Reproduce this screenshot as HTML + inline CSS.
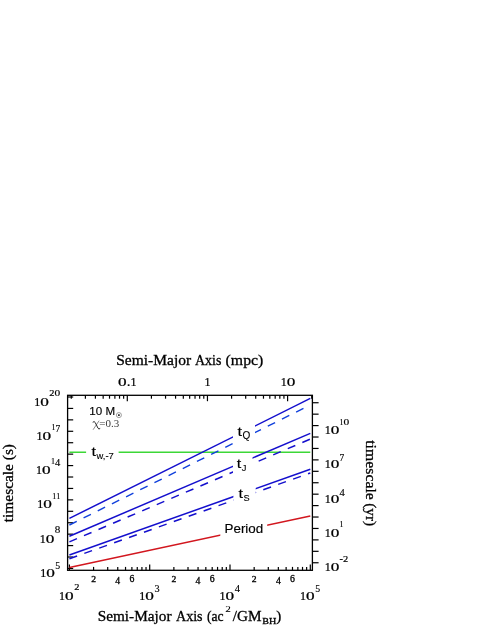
<!DOCTYPE html>
<html><head><meta charset="utf-8"><title>chart</title>
<style>html,body{margin:0;padding:0;background:#fff}svg{display:block;will-change:transform}</style></head>
<body>
<svg width="485" height="627" viewBox="0 0 485 627">
<rect width="485" height="627" fill="#fff"/>
<rect x="67.6" y="395.3" width="244.80" height="175.00" fill="none" stroke="#000" stroke-width="1.3"/>
<line x1="67.60" y1="568.45" x2="73.20" y2="568.45" stroke="#000" stroke-width="1.2"/>
<line x1="67.60" y1="557.02" x2="73.20" y2="557.02" stroke="#000" stroke-width="1.2"/>
<line x1="67.60" y1="545.59" x2="73.20" y2="545.59" stroke="#000" stroke-width="1.2"/>
<line x1="67.60" y1="534.16" x2="73.20" y2="534.16" stroke="#000" stroke-width="1.2"/>
<line x1="67.60" y1="522.73" x2="73.20" y2="522.73" stroke="#000" stroke-width="1.2"/>
<line x1="67.60" y1="511.30" x2="73.20" y2="511.30" stroke="#000" stroke-width="1.2"/>
<line x1="67.60" y1="499.87" x2="73.20" y2="499.87" stroke="#000" stroke-width="1.2"/>
<line x1="67.60" y1="488.44" x2="73.20" y2="488.44" stroke="#000" stroke-width="1.2"/>
<line x1="67.60" y1="477.01" x2="73.20" y2="477.01" stroke="#000" stroke-width="1.2"/>
<line x1="67.60" y1="465.58" x2="73.20" y2="465.58" stroke="#000" stroke-width="1.2"/>
<line x1="67.60" y1="454.15" x2="73.20" y2="454.15" stroke="#000" stroke-width="1.2"/>
<line x1="67.60" y1="442.72" x2="73.20" y2="442.72" stroke="#000" stroke-width="1.2"/>
<line x1="67.60" y1="431.29" x2="73.20" y2="431.29" stroke="#000" stroke-width="1.2"/>
<line x1="67.60" y1="419.86" x2="73.20" y2="419.86" stroke="#000" stroke-width="1.2"/>
<line x1="67.60" y1="408.43" x2="73.20" y2="408.43" stroke="#000" stroke-width="1.2"/>
<line x1="67.60" y1="397.00" x2="73.20" y2="397.00" stroke="#000" stroke-width="1.2"/>
<line x1="312.40" y1="562.75" x2="318.60" y2="562.75" stroke="#000" stroke-width="1.2"/>
<line x1="312.40" y1="551.32" x2="318.60" y2="551.32" stroke="#000" stroke-width="1.2"/>
<line x1="312.40" y1="539.89" x2="318.60" y2="539.89" stroke="#000" stroke-width="1.2"/>
<line x1="312.40" y1="528.46" x2="318.60" y2="528.46" stroke="#000" stroke-width="1.2"/>
<line x1="312.40" y1="517.03" x2="318.60" y2="517.03" stroke="#000" stroke-width="1.2"/>
<line x1="312.40" y1="505.60" x2="318.60" y2="505.60" stroke="#000" stroke-width="1.2"/>
<line x1="312.40" y1="494.17" x2="318.60" y2="494.17" stroke="#000" stroke-width="1.2"/>
<line x1="312.40" y1="482.74" x2="318.60" y2="482.74" stroke="#000" stroke-width="1.2"/>
<line x1="312.40" y1="471.31" x2="318.60" y2="471.31" stroke="#000" stroke-width="1.2"/>
<line x1="312.40" y1="459.88" x2="318.60" y2="459.88" stroke="#000" stroke-width="1.2"/>
<line x1="312.40" y1="448.45" x2="318.60" y2="448.45" stroke="#000" stroke-width="1.2"/>
<line x1="312.40" y1="437.02" x2="318.60" y2="437.02" stroke="#000" stroke-width="1.2"/>
<line x1="312.40" y1="425.59" x2="318.60" y2="425.59" stroke="#000" stroke-width="1.2"/>
<line x1="312.40" y1="414.16" x2="318.60" y2="414.16" stroke="#000" stroke-width="1.2"/>
<line x1="312.40" y1="402.73" x2="318.60" y2="402.73" stroke="#000" stroke-width="1.2"/>
<line x1="69.40" y1="570.30" x2="69.40" y2="564.40" stroke="#000" stroke-width="1.2"/>
<line x1="93.57" y1="570.30" x2="93.57" y2="566.90" stroke="#000" stroke-width="1.2"/>
<line x1="107.71" y1="570.30" x2="107.71" y2="566.90" stroke="#000" stroke-width="1.2"/>
<line x1="117.75" y1="570.30" x2="117.75" y2="566.90" stroke="#000" stroke-width="1.2"/>
<line x1="125.53" y1="570.30" x2="125.53" y2="566.90" stroke="#000" stroke-width="1.2"/>
<line x1="131.89" y1="570.30" x2="131.89" y2="566.90" stroke="#000" stroke-width="1.2"/>
<line x1="137.26" y1="570.30" x2="137.26" y2="566.90" stroke="#000" stroke-width="1.2"/>
<line x1="141.92" y1="570.30" x2="141.92" y2="566.90" stroke="#000" stroke-width="1.2"/>
<line x1="146.03" y1="570.30" x2="146.03" y2="566.90" stroke="#000" stroke-width="1.2"/>
<line x1="149.70" y1="570.30" x2="149.70" y2="564.40" stroke="#000" stroke-width="1.2"/>
<line x1="173.87" y1="570.30" x2="173.87" y2="566.90" stroke="#000" stroke-width="1.2"/>
<line x1="188.01" y1="570.30" x2="188.01" y2="566.90" stroke="#000" stroke-width="1.2"/>
<line x1="198.05" y1="570.30" x2="198.05" y2="566.90" stroke="#000" stroke-width="1.2"/>
<line x1="205.83" y1="570.30" x2="205.83" y2="566.90" stroke="#000" stroke-width="1.2"/>
<line x1="212.19" y1="570.30" x2="212.19" y2="566.90" stroke="#000" stroke-width="1.2"/>
<line x1="217.56" y1="570.30" x2="217.56" y2="566.90" stroke="#000" stroke-width="1.2"/>
<line x1="222.22" y1="570.30" x2="222.22" y2="566.90" stroke="#000" stroke-width="1.2"/>
<line x1="226.33" y1="570.30" x2="226.33" y2="566.90" stroke="#000" stroke-width="1.2"/>
<line x1="230.00" y1="570.30" x2="230.00" y2="564.40" stroke="#000" stroke-width="1.2"/>
<line x1="254.17" y1="570.30" x2="254.17" y2="566.90" stroke="#000" stroke-width="1.2"/>
<line x1="268.31" y1="570.30" x2="268.31" y2="566.90" stroke="#000" stroke-width="1.2"/>
<line x1="278.35" y1="570.30" x2="278.35" y2="566.90" stroke="#000" stroke-width="1.2"/>
<line x1="286.13" y1="570.30" x2="286.13" y2="566.90" stroke="#000" stroke-width="1.2"/>
<line x1="292.49" y1="570.30" x2="292.49" y2="566.90" stroke="#000" stroke-width="1.2"/>
<line x1="297.86" y1="570.30" x2="297.86" y2="566.90" stroke="#000" stroke-width="1.2"/>
<line x1="302.52" y1="570.30" x2="302.52" y2="566.90" stroke="#000" stroke-width="1.2"/>
<line x1="306.63" y1="570.30" x2="306.63" y2="566.90" stroke="#000" stroke-width="1.2"/>
<line x1="310.30" y1="570.30" x2="310.30" y2="564.40" stroke="#000" stroke-width="1.2"/>
<line x1="71.28" y1="395.30" x2="71.28" y2="398.70" stroke="#000" stroke-width="1.2"/>
<line x1="85.39" y1="395.30" x2="85.39" y2="398.70" stroke="#000" stroke-width="1.2"/>
<line x1="95.41" y1="395.30" x2="95.41" y2="398.70" stroke="#000" stroke-width="1.2"/>
<line x1="103.17" y1="395.30" x2="103.17" y2="398.70" stroke="#000" stroke-width="1.2"/>
<line x1="109.52" y1="395.30" x2="109.52" y2="398.70" stroke="#000" stroke-width="1.2"/>
<line x1="114.88" y1="395.30" x2="114.88" y2="398.70" stroke="#000" stroke-width="1.2"/>
<line x1="119.53" y1="395.30" x2="119.53" y2="398.70" stroke="#000" stroke-width="1.2"/>
<line x1="123.63" y1="395.30" x2="123.63" y2="398.70" stroke="#000" stroke-width="1.2"/>
<line x1="127.30" y1="395.30" x2="127.30" y2="401.20" stroke="#000" stroke-width="1.2"/>
<line x1="151.43" y1="395.30" x2="151.43" y2="398.70" stroke="#000" stroke-width="1.2"/>
<line x1="165.54" y1="395.30" x2="165.54" y2="398.70" stroke="#000" stroke-width="1.2"/>
<line x1="175.56" y1="395.30" x2="175.56" y2="398.70" stroke="#000" stroke-width="1.2"/>
<line x1="183.32" y1="395.30" x2="183.32" y2="398.70" stroke="#000" stroke-width="1.2"/>
<line x1="189.67" y1="395.30" x2="189.67" y2="398.70" stroke="#000" stroke-width="1.2"/>
<line x1="195.03" y1="395.30" x2="195.03" y2="398.70" stroke="#000" stroke-width="1.2"/>
<line x1="199.68" y1="395.30" x2="199.68" y2="398.70" stroke="#000" stroke-width="1.2"/>
<line x1="203.78" y1="395.30" x2="203.78" y2="398.70" stroke="#000" stroke-width="1.2"/>
<line x1="207.45" y1="395.30" x2="207.45" y2="401.20" stroke="#000" stroke-width="1.2"/>
<line x1="231.58" y1="395.30" x2="231.58" y2="398.70" stroke="#000" stroke-width="1.2"/>
<line x1="245.69" y1="395.30" x2="245.69" y2="398.70" stroke="#000" stroke-width="1.2"/>
<line x1="255.71" y1="395.30" x2="255.71" y2="398.70" stroke="#000" stroke-width="1.2"/>
<line x1="263.47" y1="395.30" x2="263.47" y2="398.70" stroke="#000" stroke-width="1.2"/>
<line x1="269.82" y1="395.30" x2="269.82" y2="398.70" stroke="#000" stroke-width="1.2"/>
<line x1="275.18" y1="395.30" x2="275.18" y2="398.70" stroke="#000" stroke-width="1.2"/>
<line x1="279.83" y1="395.30" x2="279.83" y2="398.70" stroke="#000" stroke-width="1.2"/>
<line x1="283.93" y1="395.30" x2="283.93" y2="398.70" stroke="#000" stroke-width="1.2"/>
<line x1="287.60" y1="395.30" x2="287.60" y2="401.20" stroke="#000" stroke-width="1.2"/>
<line x1="311.73" y1="395.30" x2="311.73" y2="398.70" stroke="#000" stroke-width="1.2"/>
<line x1="69.40" y1="452.30" x2="310.30" y2="452.30" stroke="#3cd737" stroke-width="1.6"/>
<line x1="69.40" y1="525.00" x2="310.30" y2="405.03" stroke="#1040dc" stroke-width="1.4" stroke-dasharray="8.2 7.63" stroke-dashoffset="0"/>
<line x1="69.40" y1="518.40" x2="310.30" y2="398.43" stroke="#140fcd" stroke-width="1.5"/>
<line x1="69.40" y1="541.90" x2="310.30" y2="439.04" stroke="#140fcd" stroke-width="1.5" stroke-dasharray="8.2 7.63" stroke-dashoffset="0"/>
<line x1="69.40" y1="536.20" x2="310.30" y2="433.34" stroke="#140fcd" stroke-width="1.5"/>
<line x1="69.40" y1="558.70" x2="310.30" y2="472.99" stroke="#140fcd" stroke-width="1.5" stroke-dasharray="8.2 7.63" stroke-dashoffset="0"/>
<line x1="69.40" y1="555.00" x2="310.30" y2="469.29" stroke="#140fcd" stroke-width="1.5"/>
<line x1="69.40" y1="567.40" x2="310.30" y2="515.97" stroke="#d2161e" stroke-width="1.5"/>
<rect x="233" y="422" width="22.00" height="24.00" fill="#fff"/>
<rect x="233" y="455" width="19.50" height="20.00" fill="#fff"/>
<rect x="233.4" y="485" width="22.30" height="17.00" fill="#fff"/>
<rect x="86.1" y="444" width="32.50" height="18.00" fill="#fff"/>
<rect x="220.3" y="520" width="46.90" height="18.00" fill="#fff"/>
<text x="116.20" y="364.90" font-size="15" font-family="Liberation Serif, serif" text-anchor="start" textLength="75.00" lengthAdjust="spacingAndGlyphs" fill="#000" stroke="#000" stroke-width="0.3" >Semi-Major</text>
<text x="195.00" y="364.90" font-size="15" font-family="Liberation Serif, serif" text-anchor="start" textLength="26.40" lengthAdjust="spacingAndGlyphs" fill="#000" stroke="#000" stroke-width="0.3" >Axis</text>
<text x="225.60" y="364.90" font-size="15" font-family="Liberation Serif, serif" text-anchor="start" textLength="37.70" lengthAdjust="spacingAndGlyphs" fill="#000" stroke="#000" stroke-width="0.3" >(mpc)</text>
<text x="118.11" y="385.60" font-size="11.49" font-family="Liberation Serif, serif" text-anchor="start" textLength="8.60" lengthAdjust="spacingAndGlyphs" fill="#000" stroke="#000" stroke-width="0.2" >0</text>
<text x="126.70" y="385.60" font-size="14" font-family="Liberation Serif, serif" text-anchor="start" textLength="3.78" lengthAdjust="spacingAndGlyphs" fill="#000" stroke="#000" stroke-width="0.2" >.</text>
<text x="130.48" y="385.60" font-size="11.49" font-family="Liberation Serif, serif" text-anchor="start" textLength="6.01" lengthAdjust="spacingAndGlyphs" fill="#000" stroke="#000" stroke-width="0.2" >1</text>
<text x="204.40" y="385.60" font-size="11.49" font-family="Liberation Serif, serif" text-anchor="start" textLength="6.01" lengthAdjust="spacingAndGlyphs" fill="#000" stroke="#000" stroke-width="0.2" >1</text>
<text x="280.70" y="385.60" font-size="11.49" font-family="Liberation Serif, serif" text-anchor="start" textLength="6.01" lengthAdjust="spacingAndGlyphs" fill="#000" stroke="#000" stroke-width="0.2" >1</text>
<text x="286.71" y="385.60" font-size="11.49" font-family="Liberation Serif, serif" text-anchor="start" textLength="8.60" lengthAdjust="spacingAndGlyphs" fill="#000" stroke="#000" stroke-width="0.2" >0</text>
<text x="34.29" y="405.60" font-size="11.7" font-family="Liberation Serif, serif" text-anchor="start" textLength="6.01" lengthAdjust="spacingAndGlyphs" fill="#000" stroke="#000" stroke-width="0.22" >1</text>
<text x="40.30" y="405.60" font-size="11.7" font-family="Liberation Serif, serif" text-anchor="start" textLength="8.60" lengthAdjust="spacingAndGlyphs" fill="#000" stroke="#000" stroke-width="0.22" >0</text>
<text x="49.39" y="395.90" font-size="7.77" font-family="Liberation Serif, serif" text-anchor="start" textLength="5.20" lengthAdjust="spacingAndGlyphs" fill="#000" stroke="#000" stroke-width="0.15" >2</text>
<text x="54.59" y="395.90" font-size="7.77" font-family="Liberation Serif, serif" text-anchor="start" textLength="5.71" lengthAdjust="spacingAndGlyphs" fill="#000" stroke="#000" stroke-width="0.15" >0</text>
<text x="36.53" y="439.89" font-size="11.7" font-family="Liberation Serif, serif" text-anchor="start" textLength="6.01" lengthAdjust="spacingAndGlyphs" fill="#000" stroke="#000" stroke-width="0.22" >1</text>
<text x="42.54" y="439.89" font-size="11.7" font-family="Liberation Serif, serif" text-anchor="start" textLength="8.60" lengthAdjust="spacingAndGlyphs" fill="#000" stroke="#000" stroke-width="0.22" >0</text>
<text x="51.63" y="430.19" font-size="7.77" font-family="Liberation Serif, serif" text-anchor="start" textLength="3.99" lengthAdjust="spacingAndGlyphs" fill="#000" stroke="#000" stroke-width="0.15" >1</text>
<text x="55.62" y="432.14" font-size="9.58" font-family="Liberation Serif, serif" text-anchor="start" textLength="4.68" lengthAdjust="spacingAndGlyphs" fill="#000" stroke="#000" stroke-width="0.15" >7</text>
<text x="35.95" y="474.18" font-size="11.7" font-family="Liberation Serif, serif" text-anchor="start" textLength="6.01" lengthAdjust="spacingAndGlyphs" fill="#000" stroke="#000" stroke-width="0.22" >1</text>
<text x="41.96" y="474.18" font-size="11.7" font-family="Liberation Serif, serif" text-anchor="start" textLength="8.60" lengthAdjust="spacingAndGlyphs" fill="#000" stroke="#000" stroke-width="0.22" >0</text>
<text x="51.06" y="464.48" font-size="7.77" font-family="Liberation Serif, serif" text-anchor="start" textLength="3.99" lengthAdjust="spacingAndGlyphs" fill="#000" stroke="#000" stroke-width="0.15" >1</text>
<text x="55.05" y="466.43" font-size="9.58" font-family="Liberation Serif, serif" text-anchor="start" textLength="5.25" lengthAdjust="spacingAndGlyphs" fill="#000" stroke="#000" stroke-width="0.15" >4</text>
<text x="37.22" y="508.47" font-size="11.7" font-family="Liberation Serif, serif" text-anchor="start" textLength="6.01" lengthAdjust="spacingAndGlyphs" fill="#000" stroke="#000" stroke-width="0.22" >1</text>
<text x="43.22" y="508.47" font-size="11.7" font-family="Liberation Serif, serif" text-anchor="start" textLength="8.60" lengthAdjust="spacingAndGlyphs" fill="#000" stroke="#000" stroke-width="0.22" >0</text>
<text x="52.32" y="498.77" font-size="7.77" font-family="Liberation Serif, serif" text-anchor="start" textLength="3.99" lengthAdjust="spacingAndGlyphs" fill="#000" stroke="#000" stroke-width="0.15" >1</text>
<text x="56.31" y="498.77" font-size="7.77" font-family="Liberation Serif, serif" text-anchor="start" textLength="3.99" lengthAdjust="spacingAndGlyphs" fill="#000" stroke="#000" stroke-width="0.15" >1</text>
<text x="39.65" y="542.76" font-size="11.7" font-family="Liberation Serif, serif" text-anchor="start" textLength="6.01" lengthAdjust="spacingAndGlyphs" fill="#000" stroke="#000" stroke-width="0.22" >1</text>
<text x="45.65" y="542.76" font-size="11.7" font-family="Liberation Serif, serif" text-anchor="start" textLength="8.60" lengthAdjust="spacingAndGlyphs" fill="#000" stroke="#000" stroke-width="0.22" >0</text>
<text x="54.75" y="533.06" font-size="9.58" font-family="Liberation Serif, serif" text-anchor="start" textLength="5.55" lengthAdjust="spacingAndGlyphs" fill="#000" stroke="#000" stroke-width="0.15" >8</text>
<text x="40.29" y="577.05" font-size="11.7" font-family="Liberation Serif, serif" text-anchor="start" textLength="6.01" lengthAdjust="spacingAndGlyphs" fill="#000" stroke="#000" stroke-width="0.22" >1</text>
<text x="46.29" y="577.05" font-size="11.7" font-family="Liberation Serif, serif" text-anchor="start" textLength="8.60" lengthAdjust="spacingAndGlyphs" fill="#000" stroke="#000" stroke-width="0.22" >0</text>
<text x="55.39" y="569.30" font-size="9.58" font-family="Liberation Serif, serif" text-anchor="start" textLength="4.91" lengthAdjust="spacingAndGlyphs" fill="#000" stroke="#000" stroke-width="0.15" >5</text>
<text x="324.80" y="433.79" font-size="11.7" font-family="Liberation Serif, serif" text-anchor="start" textLength="6.01" lengthAdjust="spacingAndGlyphs" fill="#000" stroke="#000" stroke-width="0.22" >1</text>
<text x="330.81" y="433.79" font-size="11.7" font-family="Liberation Serif, serif" text-anchor="start" textLength="8.60" lengthAdjust="spacingAndGlyphs" fill="#000" stroke="#000" stroke-width="0.22" >0</text>
<text x="339.50" y="424.59" font-size="7.77" font-family="Liberation Serif, serif" text-anchor="start" textLength="3.99" lengthAdjust="spacingAndGlyphs" fill="#000" stroke="#000" stroke-width="0.15" >1</text>
<text x="343.49" y="424.59" font-size="7.77" font-family="Liberation Serif, serif" text-anchor="start" textLength="5.71" lengthAdjust="spacingAndGlyphs" fill="#000" stroke="#000" stroke-width="0.15" >0</text>
<text x="324.80" y="468.08" font-size="11.7" font-family="Liberation Serif, serif" text-anchor="start" textLength="6.01" lengthAdjust="spacingAndGlyphs" fill="#000" stroke="#000" stroke-width="0.22" >1</text>
<text x="330.81" y="468.08" font-size="11.7" font-family="Liberation Serif, serif" text-anchor="start" textLength="8.60" lengthAdjust="spacingAndGlyphs" fill="#000" stroke="#000" stroke-width="0.22" >0</text>
<text x="339.50" y="460.83" font-size="9.58" font-family="Liberation Serif, serif" text-anchor="start" textLength="4.68" lengthAdjust="spacingAndGlyphs" fill="#000" stroke="#000" stroke-width="0.15" >7</text>
<text x="324.80" y="502.97" font-size="11.7" font-family="Liberation Serif, serif" text-anchor="start" textLength="6.01" lengthAdjust="spacingAndGlyphs" fill="#000" stroke="#000" stroke-width="0.22" >1</text>
<text x="330.81" y="502.97" font-size="11.7" font-family="Liberation Serif, serif" text-anchor="start" textLength="8.60" lengthAdjust="spacingAndGlyphs" fill="#000" stroke="#000" stroke-width="0.22" >0</text>
<text x="339.50" y="495.72" font-size="9.58" font-family="Liberation Serif, serif" text-anchor="start" textLength="5.25" lengthAdjust="spacingAndGlyphs" fill="#000" stroke="#000" stroke-width="0.15" >4</text>
<text x="324.80" y="536.66" font-size="11.7" font-family="Liberation Serif, serif" text-anchor="start" textLength="6.01" lengthAdjust="spacingAndGlyphs" fill="#000" stroke="#000" stroke-width="0.22" >1</text>
<text x="330.81" y="536.66" font-size="11.7" font-family="Liberation Serif, serif" text-anchor="start" textLength="8.60" lengthAdjust="spacingAndGlyphs" fill="#000" stroke="#000" stroke-width="0.22" >0</text>
<text x="339.50" y="527.46" font-size="7.77" font-family="Liberation Serif, serif" text-anchor="start" textLength="3.99" lengthAdjust="spacingAndGlyphs" fill="#000" stroke="#000" stroke-width="0.15" >1</text>
<text x="324.80" y="570.95" font-size="11.7" font-family="Liberation Serif, serif" text-anchor="start" textLength="6.01" lengthAdjust="spacingAndGlyphs" fill="#000" stroke="#000" stroke-width="0.22" >1</text>
<text x="330.81" y="570.95" font-size="11.7" font-family="Liberation Serif, serif" text-anchor="start" textLength="8.60" lengthAdjust="spacingAndGlyphs" fill="#000" stroke="#000" stroke-width="0.22" >0</text>
<text x="339.50" y="561.75" font-size="9.3" font-family="Liberation Serif, serif" text-anchor="start" textLength="3.48" lengthAdjust="spacingAndGlyphs" fill="#000" stroke="#000" stroke-width="0.15" >-</text>
<text x="342.98" y="561.75" font-size="7.77" font-family="Liberation Serif, serif" text-anchor="start" textLength="5.20" lengthAdjust="spacingAndGlyphs" fill="#000" stroke="#000" stroke-width="0.15" >2</text>
<text x="59.05" y="600.20" font-size="11.7" font-family="Liberation Serif, serif" text-anchor="start" textLength="6.01" lengthAdjust="spacingAndGlyphs" fill="#000" stroke="#000" stroke-width="0.22" >1</text>
<text x="65.06" y="600.20" font-size="11.7" font-family="Liberation Serif, serif" text-anchor="start" textLength="8.60" lengthAdjust="spacingAndGlyphs" fill="#000" stroke="#000" stroke-width="0.22" >0</text>
<text x="74.15" y="590.30" font-size="7.77" font-family="Liberation Serif, serif" text-anchor="start" textLength="5.20" lengthAdjust="spacingAndGlyphs" fill="#000" stroke="#000" stroke-width="0.15" >2</text>
<text x="139.38" y="600.20" font-size="11.7" font-family="Liberation Serif, serif" text-anchor="start" textLength="6.01" lengthAdjust="spacingAndGlyphs" fill="#000" stroke="#000" stroke-width="0.22" >1</text>
<text x="145.39" y="600.20" font-size="11.7" font-family="Liberation Serif, serif" text-anchor="start" textLength="8.60" lengthAdjust="spacingAndGlyphs" fill="#000" stroke="#000" stroke-width="0.22" >0</text>
<text x="154.48" y="592.25" font-size="9.58" font-family="Liberation Serif, serif" text-anchor="start" textLength="5.13" lengthAdjust="spacingAndGlyphs" fill="#000" stroke="#000" stroke-width="0.15" >3</text>
<text x="219.62" y="600.20" font-size="11.7" font-family="Liberation Serif, serif" text-anchor="start" textLength="6.01" lengthAdjust="spacingAndGlyphs" fill="#000" stroke="#000" stroke-width="0.22" >1</text>
<text x="225.63" y="600.20" font-size="11.7" font-family="Liberation Serif, serif" text-anchor="start" textLength="8.60" lengthAdjust="spacingAndGlyphs" fill="#000" stroke="#000" stroke-width="0.22" >0</text>
<text x="234.72" y="592.25" font-size="9.58" font-family="Liberation Serif, serif" text-anchor="start" textLength="5.25" lengthAdjust="spacingAndGlyphs" fill="#000" stroke="#000" stroke-width="0.15" >4</text>
<text x="300.09" y="600.20" font-size="11.7" font-family="Liberation Serif, serif" text-anchor="start" textLength="6.01" lengthAdjust="spacingAndGlyphs" fill="#000" stroke="#000" stroke-width="0.22" >1</text>
<text x="306.10" y="600.20" font-size="11.7" font-family="Liberation Serif, serif" text-anchor="start" textLength="8.60" lengthAdjust="spacingAndGlyphs" fill="#000" stroke="#000" stroke-width="0.22" >0</text>
<text x="315.20" y="592.25" font-size="9.58" font-family="Liberation Serif, serif" text-anchor="start" textLength="4.91" lengthAdjust="spacingAndGlyphs" fill="#000" stroke="#000" stroke-width="0.15" >5</text>
<text x="91.16" y="581.60" font-size="8.25" font-family="Liberation Serif, serif" text-anchor="start" textLength="4.83" lengthAdjust="spacingAndGlyphs" fill="#000" stroke="#000" stroke-width="0.3" >2</text>
<text x="115.30" y="583.55" font-size="9.58" font-family="Liberation Serif, serif" text-anchor="start" textLength="4.89" lengthAdjust="spacingAndGlyphs" fill="#000" stroke="#000" stroke-width="0.3" >4</text>
<text x="129.44" y="581.60" font-size="9.58" font-family="Liberation Serif, serif" text-anchor="start" textLength="4.90" lengthAdjust="spacingAndGlyphs" fill="#000" stroke="#000" stroke-width="0.3" >6</text>
<text x="171.46" y="581.60" font-size="8.25" font-family="Liberation Serif, serif" text-anchor="start" textLength="4.83" lengthAdjust="spacingAndGlyphs" fill="#000" stroke="#000" stroke-width="0.3" >2</text>
<text x="195.60" y="583.55" font-size="9.58" font-family="Liberation Serif, serif" text-anchor="start" textLength="4.89" lengthAdjust="spacingAndGlyphs" fill="#000" stroke="#000" stroke-width="0.3" >4</text>
<text x="209.74" y="581.60" font-size="9.58" font-family="Liberation Serif, serif" text-anchor="start" textLength="4.90" lengthAdjust="spacingAndGlyphs" fill="#000" stroke="#000" stroke-width="0.3" >6</text>
<text x="251.76" y="581.60" font-size="8.25" font-family="Liberation Serif, serif" text-anchor="start" textLength="4.83" lengthAdjust="spacingAndGlyphs" fill="#000" stroke="#000" stroke-width="0.3" >2</text>
<text x="275.90" y="583.55" font-size="9.58" font-family="Liberation Serif, serif" text-anchor="start" textLength="4.89" lengthAdjust="spacingAndGlyphs" fill="#000" stroke="#000" stroke-width="0.3" >4</text>
<text x="290.04" y="581.60" font-size="9.58" font-family="Liberation Serif, serif" text-anchor="start" textLength="4.90" lengthAdjust="spacingAndGlyphs" fill="#000" stroke="#000" stroke-width="0.3" >6</text>
<text transform="translate(13.4,522.2) rotate(-90)" font-size="15" font-family="Liberation Serif, serif" textLength="78.2" lengthAdjust="spacingAndGlyphs" stroke="#000" stroke-width="0.3">timescale (s)</text>
<text transform="translate(366.4,440.2) rotate(90)" font-size="15" font-family="Liberation Serif, serif" textLength="59.6" lengthAdjust="spacingAndGlyphs" stroke="#000" stroke-width="0.3">timescale</text>
<text transform="translate(366.4,503.2) rotate(90)" font-size="15" font-family="Liberation Serif, serif" textLength="23.0" lengthAdjust="spacingAndGlyphs" stroke="#000" stroke-width="0.3">(yr)</text>
<text x="97.70" y="620.50" font-size="15" font-family="Liberation Serif, serif" text-anchor="start" textLength="73.80" lengthAdjust="spacingAndGlyphs" fill="#000" stroke="#000" stroke-width="0.3" >Semi-Major</text>
<text x="176.00" y="620.50" font-size="15" font-family="Liberation Serif, serif" text-anchor="start" textLength="26.60" lengthAdjust="spacingAndGlyphs" fill="#000" stroke="#000" stroke-width="0.3" >Axis</text>
<text x="207.00" y="620.50" font-size="15" font-family="Liberation Serif, serif" text-anchor="start" textLength="16.60" lengthAdjust="spacingAndGlyphs" fill="#000" stroke="#000" stroke-width="0.3" >(ac</text>
<text x="225.30" y="612.00" font-size="8.36" font-family="Liberation Serif, serif" text-anchor="start" textLength="5.59" lengthAdjust="spacingAndGlyphs" fill="#000" stroke="#000" stroke-width="0.05" >2</text>
<text x="232.80" y="620.50" font-size="15" font-family="Liberation Serif, serif" text-anchor="start" textLength="28.80" lengthAdjust="spacingAndGlyphs" fill="#000" stroke="#000" stroke-width="0.3" >/GM</text>
<text x="262.20" y="624.30" font-size="8.2" font-family="Liberation Serif, serif" text-anchor="start" textLength="14.00" lengthAdjust="spacingAndGlyphs" fill="#000" stroke="#000" stroke-width="0.3" >BH</text>
<text x="276.30" y="620.50" font-size="15" font-family="Liberation Serif, serif" text-anchor="start" fill="#000" stroke="#000" stroke-width="0.3" >)</text>
<text x="89.30" y="414.80" font-size="11.6" font-family="Liberation Sans, sans-serif" text-anchor="start" fill="#000" stroke="#000" stroke-width="0.15" >10 M</text>
<circle cx="118.9" cy="415.1" r="2.55" fill="none" stroke="#555" stroke-width="0.55"/><circle cx="118.9" cy="415.1" r="0.95" fill="#000"/>
<path d="M93.0,422.0 q1.3,-1.2 2.2,0.5 L98.0,428.2 q0.8,1.5 1.9,0.5" fill="none" stroke="#2a2a2a" stroke-width="1.0" stroke-linecap="round"/>
<path d="M98.9,421.0 L93.3,429.4" fill="none" stroke="#2a2a2a" stroke-width="0.55" stroke-linecap="round"/>
<text x="99.3" y="426.6" font-size="10.8" font-family="Liberation Serif, serif" fill="#3a3a3a" textLength="20.0" lengthAdjust="spacingAndGlyphs">=0.3</text>
<text x="237.4" y="436.2" font-size="13.2" font-family="Liberation Sans, sans-serif" stroke="#000" stroke-width="0.15" textLength="4.5" lengthAdjust="spacingAndGlyphs">t</text>
<text x="242.6" y="439.4" font-size="10" font-family="Liberation Sans, sans-serif" stroke="#000" stroke-width="0.12">Q</text>
<text x="236.8" y="467.7" font-size="13.2" font-family="Liberation Sans, sans-serif" stroke="#000" stroke-width="0.15" textLength="4.5" lengthAdjust="spacingAndGlyphs">t</text>
<text x="241.8" y="470.9" font-size="9.3" font-family="Liberation Sans, sans-serif" stroke="#000" stroke-width="0.12">J</text>
<text x="238.4" y="497.5" font-size="13.2" font-family="Liberation Sans, sans-serif" stroke="#000" stroke-width="0.15" textLength="4.5" lengthAdjust="spacingAndGlyphs">t</text>
<text x="243.5" y="500.7" font-size="9.2" font-family="Liberation Sans, sans-serif" stroke="#000" stroke-width="0.12">S</text>
<text x="91.4" y="455.7" font-size="13.2" font-family="Liberation Sans, sans-serif" stroke="#000" stroke-width="0.15" textLength="4.5" lengthAdjust="spacingAndGlyphs">t</text>
<text x="96.60000000000001" y="458.9" font-size="9.4" font-family="Liberation Sans, sans-serif" stroke="#000" stroke-width="0.12">w,-7</text>
<text x="224.50" y="532.50" font-size="13.4" font-family="Liberation Sans, sans-serif" text-anchor="start" fill="#000" stroke="#000" stroke-width="0.15" >Period</text>
</svg>
</body></html>
